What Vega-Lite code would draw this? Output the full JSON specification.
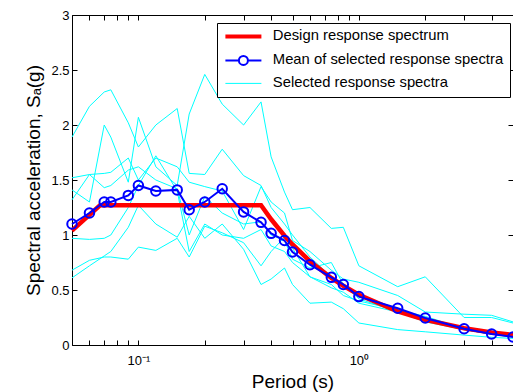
{
  "$schema": "https://vega.github.io/schema/vega-lite/v6.json",
  "width": 441,
  "height": 330,
  "autosize": {"type": "none"},
  "padding": {"left": 72, "top": 15, "right": 0, "bottom": 47},
  "background": "white",
  "config": {
    "view": {"stroke": "black", "strokeWidth": 1},
    "font": "Liberation Sans",
    "axis": {
      "domain": false,
      "grid": false,
      "tickColor": "black",
      "tickSize": -5,
      "labelColor": "black",
      "labelFont": "Liberation Sans",
      "labelFontSize": 13,
      "titleFont": "Liberation Sans",
      "titleFontSize": 19,
      "titleFontWeight": "normal",
      "titleColor": "black"
    }
  },
  "datasets": {
    "design": [
      {"T": 0.05, "Sa": 1.04}, {"T": 0.067, "Sa": 1.27}, {"T": 0.36, "Sa": 1.27},
      {"T": 0.4, "Sa": 1.143}, {"T": 0.46, "Sa": 0.994}, {"T": 0.5, "Sa": 0.914},
      {"T": 0.6, "Sa": 0.762}, {"T": 0.75, "Sa": 0.61}, {"T": 0.85, "Sa": 0.538},
      {"T": 1.0, "Sa": 0.457}, {"T": 1.5, "Sa": 0.305}, {"T": 2.0, "Sa": 0.229},
      {"T": 3.0, "Sa": 0.152}, {"T": 4.0, "Sa": 0.114}, {"T": 5.0, "Sa": 0.091}
    ],
    "mean": [
      {"T": 0.05, "Sa": 1.10}, {"T": 0.06, "Sa": 1.20}, {"T": 0.07, "Sa": 1.30},
      {"T": 0.075, "Sa": 1.30}, {"T": 0.09, "Sa": 1.36}, {"T": 0.1, "Sa": 1.45},
      {"T": 0.12, "Sa": 1.40}, {"T": 0.15, "Sa": 1.41}, {"T": 0.17, "Sa": 1.23},
      {"T": 0.2, "Sa": 1.30}, {"T": 0.24, "Sa": 1.42}, {"T": 0.3, "Sa": 1.21},
      {"T": 0.36, "Sa": 1.115}, {"T": 0.4, "Sa": 1.015}, {"T": 0.46, "Sa": 0.95},
      {"T": 0.5, "Sa": 0.845}, {"T": 0.6, "Sa": 0.73}, {"T": 0.75, "Sa": 0.615},
      {"T": 0.85, "Sa": 0.55}, {"T": 1.0, "Sa": 0.44}, {"T": 1.5, "Sa": 0.334},
      {"T": 2.0, "Sa": 0.245}, {"T": 3.0, "Sa": 0.148}, {"T": 4.0, "Sa": 0.10},
      {"T": 5.0, "Sa": 0.073}
    ],
    "sel": [
      {"id": 1, "T": 0.05, "Sa": 1.89}, {"id": 1, "T": 0.06, "Sa": 2.17}, {"id": 1, "T": 0.07, "Sa": 2.30}, {"id": 1, "T": 0.075, "Sa": 2.32}, {"id": 1, "T": 0.09, "Sa": 2.02}, {"id": 1, "T": 0.1, "Sa": 1.80}, {"id": 1, "T": 0.12, "Sa": 2.00}, {"id": 1, "T": 0.15, "Sa": 2.15}, {"id": 1, "T": 0.17, "Sa": 1.56}, {"id": 1, "T": 0.2, "Sa": 1.55}, {"id": 1, "T": 0.24, "Sa": 1.78}, {"id": 1, "T": 0.3, "Sa": 1.54}, {"id": 1, "T": 0.36, "Sa": 1.45}, {"id": 1, "T": 0.4, "Sa": 1.25}, {"id": 1, "T": 0.46, "Sa": 1.10}, {"id": 1, "T": 0.5, "Sa": 1.00}, {"id": 1, "T": 0.6, "Sa": 0.80}, {"id": 1, "T": 0.75, "Sa": 0.62}, {"id": 1, "T": 0.85, "Sa": 0.55}, {"id": 1, "T": 1.0, "Sa": 0.42}, {"id": 1, "T": 1.5, "Sa": 0.30}, {"id": 1, "T": 2.0, "Sa": 0.21}, {"id": 1, "T": 3.0, "Sa": 0.14}, {"id": 1, "T": 4.0, "Sa": 0.10}, {"id": 1, "T": 5.0, "Sa": 0.08},
      {"id": 2, "T": 0.05, "Sa": 1.41}, {"id": 2, "T": 0.06, "Sa": 1.30}, {"id": 2, "T": 0.07, "Sa": 2.00}, {"id": 2, "T": 0.075, "Sa": 1.89}, {"id": 2, "T": 0.09, "Sa": 1.48}, {"id": 2, "T": 0.1, "Sa": 2.07}, {"id": 2, "T": 0.12, "Sa": 1.62}, {"id": 2, "T": 0.15, "Sa": 1.45}, {"id": 2, "T": 0.17, "Sa": 2.10}, {"id": 2, "T": 0.2, "Sa": 2.46}, {"id": 2, "T": 0.24, "Sa": 2.19}, {"id": 2, "T": 0.3, "Sa": 2.00}, {"id": 2, "T": 0.36, "Sa": 2.21}, {"id": 2, "T": 0.4, "Sa": 1.71}, {"id": 2, "T": 0.46, "Sa": 1.39}, {"id": 2, "T": 0.5, "Sa": 1.23}, {"id": 2, "T": 0.6, "Sa": 1.25}, {"id": 2, "T": 0.75, "Sa": 1.06}, {"id": 2, "T": 0.85, "Sa": 1.07}, {"id": 2, "T": 1.0, "Sa": 0.72}, {"id": 2, "T": 1.5, "Sa": 0.53}, {"id": 2, "T": 2.0, "Sa": 0.62}, {"id": 2, "T": 3.0, "Sa": 0.25}, {"id": 2, "T": 4.0, "Sa": 0.25}, {"id": 2, "T": 5.0, "Sa": 0.20},
      {"id": 3, "T": 0.05, "Sa": 1.52}, {"id": 3, "T": 0.06, "Sa": 1.55}, {"id": 3, "T": 0.07, "Sa": 1.56}, {"id": 3, "T": 0.075, "Sa": 1.57}, {"id": 3, "T": 0.09, "Sa": 1.70}, {"id": 3, "T": 0.1, "Sa": 1.50}, {"id": 3, "T": 0.12, "Sa": 1.70}, {"id": 3, "T": 0.15, "Sa": 1.62}, {"id": 3, "T": 0.17, "Sa": 1.48}, {"id": 3, "T": 0.2, "Sa": 1.44}, {"id": 3, "T": 0.24, "Sa": 1.40}, {"id": 3, "T": 0.3, "Sa": 1.05}, {"id": 3, "T": 0.36, "Sa": 1.44}, {"id": 3, "T": 0.4, "Sa": 1.30}, {"id": 3, "T": 0.46, "Sa": 1.20}, {"id": 3, "T": 0.5, "Sa": 0.95}, {"id": 3, "T": 0.6, "Sa": 0.85}, {"id": 3, "T": 0.75, "Sa": 0.68}, {"id": 3, "T": 0.85, "Sa": 0.60}, {"id": 3, "T": 1.0, "Sa": 0.57}, {"id": 3, "T": 1.5, "Sa": 0.45}, {"id": 3, "T": 2.0, "Sa": 0.30}, {"id": 3, "T": 3.0, "Sa": 0.28}, {"id": 3, "T": 4.0, "Sa": 0.27}, {"id": 3, "T": 5.0, "Sa": 0.21},
      {"id": 4, "T": 0.05, "Sa": 1.32}, {"id": 4, "T": 0.06, "Sa": 1.55}, {"id": 4, "T": 0.07, "Sa": 1.43}, {"id": 4, "T": 0.075, "Sa": 1.45}, {"id": 4, "T": 0.09, "Sa": 1.59}, {"id": 4, "T": 0.1, "Sa": 1.62}, {"id": 4, "T": 0.12, "Sa": 1.50}, {"id": 4, "T": 0.15, "Sa": 1.42}, {"id": 4, "T": 0.17, "Sa": 1.00}, {"id": 4, "T": 0.2, "Sa": 1.35}, {"id": 4, "T": 0.24, "Sa": 1.20}, {"id": 4, "T": 0.3, "Sa": 1.10}, {"id": 4, "T": 0.36, "Sa": 1.12}, {"id": 4, "T": 0.4, "Sa": 1.00}, {"id": 4, "T": 0.46, "Sa": 0.95}, {"id": 4, "T": 0.5, "Sa": 0.78}, {"id": 4, "T": 0.6, "Sa": 0.70}, {"id": 4, "T": 0.75, "Sa": 0.75}, {"id": 4, "T": 0.85, "Sa": 0.55}, {"id": 4, "T": 1.0, "Sa": 0.46}, {"id": 4, "T": 1.5, "Sa": 0.32}, {"id": 4, "T": 2.0, "Sa": 0.26}, {"id": 4, "T": 3.0, "Sa": 0.15}, {"id": 4, "T": 4.0, "Sa": 0.12}, {"id": 4, "T": 5.0, "Sa": 0.09},
      {"id": 5, "T": 0.05, "Sa": 0.97}, {"id": 5, "T": 0.06, "Sa": 0.96}, {"id": 5, "T": 0.07, "Sa": 0.97}, {"id": 5, "T": 0.075, "Sa": 1.00}, {"id": 5, "T": 0.09, "Sa": 1.25}, {"id": 5, "T": 0.1, "Sa": 1.45}, {"id": 5, "T": 0.12, "Sa": 1.72}, {"id": 5, "T": 0.15, "Sa": 1.40}, {"id": 5, "T": 0.17, "Sa": 0.85}, {"id": 5, "T": 0.2, "Sa": 1.10}, {"id": 5, "T": 0.24, "Sa": 1.00}, {"id": 5, "T": 0.3, "Sa": 0.97}, {"id": 5, "T": 0.36, "Sa": 1.05}, {"id": 5, "T": 0.4, "Sa": 0.90}, {"id": 5, "T": 0.46, "Sa": 0.85}, {"id": 5, "T": 0.5, "Sa": 0.75}, {"id": 5, "T": 0.6, "Sa": 0.62}, {"id": 5, "T": 0.75, "Sa": 0.55}, {"id": 5, "T": 0.85, "Sa": 0.45}, {"id": 5, "T": 1.0, "Sa": 0.40}, {"id": 5, "T": 1.5, "Sa": 0.32}, {"id": 5, "T": 2.0, "Sa": 0.22}, {"id": 5, "T": 3.0, "Sa": 0.14}, {"id": 5, "T": 4.0, "Sa": 0.10}, {"id": 5, "T": 5.0, "Sa": 0.08},
      {"id": 6, "T": 0.05, "Sa": 0.68}, {"id": 6, "T": 0.06, "Sa": 0.77}, {"id": 6, "T": 0.07, "Sa": 0.80}, {"id": 6, "T": 0.075, "Sa": 0.80}, {"id": 6, "T": 0.09, "Sa": 0.78}, {"id": 6, "T": 0.1, "Sa": 0.89}, {"id": 6, "T": 0.12, "Sa": 0.86}, {"id": 6, "T": 0.15, "Sa": 0.97}, {"id": 6, "T": 0.17, "Sa": 0.80}, {"id": 6, "T": 0.2, "Sa": 1.08}, {"id": 6, "T": 0.24, "Sa": 1.02}, {"id": 6, "T": 0.3, "Sa": 0.93}, {"id": 6, "T": 0.36, "Sa": 0.72}, {"id": 6, "T": 0.4, "Sa": 0.85}, {"id": 6, "T": 0.46, "Sa": 0.98}, {"id": 6, "T": 0.5, "Sa": 0.88}, {"id": 6, "T": 0.6, "Sa": 0.62}, {"id": 6, "T": 0.75, "Sa": 0.52}, {"id": 6, "T": 0.85, "Sa": 0.48}, {"id": 6, "T": 1.0, "Sa": 0.38}, {"id": 6, "T": 1.5, "Sa": 0.30}, {"id": 6, "T": 2.0, "Sa": 0.22}, {"id": 6, "T": 3.0, "Sa": 0.14}, {"id": 6, "T": 4.0, "Sa": 0.10}, {"id": 6, "T": 5.0, "Sa": 0.08},
      {"id": 7, "T": 0.05, "Sa": 0.61}, {"id": 7, "T": 0.06, "Sa": 0.72}, {"id": 7, "T": 0.07, "Sa": 0.81}, {"id": 7, "T": 0.075, "Sa": 0.85}, {"id": 7, "T": 0.09, "Sa": 1.07}, {"id": 7, "T": 0.1, "Sa": 1.27}, {"id": 7, "T": 0.12, "Sa": 1.10}, {"id": 7, "T": 0.15, "Sa": 0.98}, {"id": 7, "T": 0.17, "Sa": 1.17}, {"id": 7, "T": 0.2, "Sa": 0.97}, {"id": 7, "T": 0.24, "Sa": 1.10}, {"id": 7, "T": 0.3, "Sa": 0.87}, {"id": 7, "T": 0.36, "Sa": 0.55}, {"id": 7, "T": 0.4, "Sa": 0.60}, {"id": 7, "T": 0.46, "Sa": 0.70}, {"id": 7, "T": 0.5, "Sa": 0.55}, {"id": 7, "T": 0.6, "Sa": 0.38}, {"id": 7, "T": 0.75, "Sa": 0.39}, {"id": 7, "T": 0.85, "Sa": 0.33}, {"id": 7, "T": 1.0, "Sa": 0.20}, {"id": 7, "T": 1.5, "Sa": 0.14}, {"id": 7, "T": 2.0, "Sa": 0.12}, {"id": 7, "T": 3.0, "Sa": 0.09}, {"id": 7, "T": 4.0, "Sa": 0.07}, {"id": 7, "T": 5.0, "Sa": 0.06}
    ]
  },
  "layer": [
    {
      "data": {"name": "sel"},
      "mark": {"type": "line", "strokeWidth": 1},
      "encoding": {
        "x": {
          "field": "T", "type": "quantitative",
          "scale": {"type": "log", "domain": [0.05, 5], "nice": false},
          "axis": {
            "orient": "bottom",
            "values": [0.05, 0.06, 0.07, 0.08, 0.09, 0.1, 0.2, 0.3, 0.4, 0.5, 0.6, 0.7, 0.8, 0.9, 1, 2, 3, 4, 5],
            "labelExpr": "datum.value == 0.1 ? '10⁻¹' : (datum.value == 1 ? '10⁰' : '')",
            "labelPadding": 14,
            "labelFlush": false,
            "labelOverlap": false,
            "title": "Period (s)",
            "titlePadding": 5
          }
        },
        "y": {
          "field": "Sa", "type": "quantitative",
          "scale": {"domain": [0, 3], "nice": false, "zero": false},
          "axis": {
            "orient": "left",
            "values": [0, 0.5, 1, 1.5, 2, 2.5, 3],
            "format": "~g",
            "labelPadding": 8,
            "title": "Spectral acceleration, Sₐ(g)",
            "titlePadding": 7
          }
        },
        "detail": {"field": "id", "type": "nominal"},
        "color": {
          "datum": "Selected response spectra", "type": "nominal",
          "scale": {
            "domain": ["Design response spectrum", "Mean of selected response spectra", "Selected response spectra"],
            "range": ["#ff0000", "#0000ff", "#00ffff"]
          },
          "legend": {
            "orient": "none",
            "legendX": 145,
            "legendY": 8,
            "title": null,
            "strokeColor": "black",
            "fillColor": "white",
            "padding": 6,
            "labelFont": "Liberation Sans",
            "labelFontSize": 14.8,
            "labelColor": "black",
            "labelLimit": 400,
            "symbolSize": 100,
            "symbolOffset": 13,
            "labelOffset": 22,
            "rowPadding": 6,
            "symbolType": "stroke",
            "encode": {
              "symbols": {
                "update": {
                  "shape": {"signal": "datum.value === 'Mean of selected response spectra' ? 'M-3.6,0L-0.9,0M0.9,0L3.6,0M0.9,0A0.9,0.9,0,1,1,-0.9,0A0.9,0.9,0,1,1,0.9,0' : 'M-3.6,0L3.6,0'"},
                  "strokeWidth": {"signal": "datum.value === 'Design response spectrum' ? 4 : (datum.value === 'Mean of selected response spectra' ? 2 : 1)"},
                  "fill": {"value": "transparent"}
                }
              }
            }
          }
        }
      }
    },
    {
      "data": {"name": "design"},
      "mark": {"type": "line", "strokeWidth": 4.5},
      "encoding": {
        "x": {"field": "T", "type": "quantitative", "axis": null},
        "y": {"field": "Sa", "type": "quantitative", "axis": null},
        "color": {"datum": "Design response spectrum", "type": "nominal"}
      }
    },
    {
      "data": {"name": "mean"},
      "mark": {"type": "line", "strokeWidth": 2},
      "encoding": {
        "x": {"field": "T", "type": "quantitative", "axis": null},
        "y": {"field": "Sa", "type": "quantitative", "axis": null},
        "color": {"datum": "Mean of selected response spectra", "type": "nominal"}
      }
    },
    {
      "data": {"name": "mean"},
      "mark": {"type": "point", "shape": "circle", "filled": false, "color": "#0000ff", "strokeWidth": 2, "size": 90, "opacity": 1},
      "encoding": {
        "x": {
          "field": "T", "type": "quantitative",
          "axis": {"orient": "top", "values": [0.05, 0.06, 0.07, 0.08, 0.09, 0.1, 0.2, 0.3, 0.4, 0.5, 0.6, 0.7, 0.8, 0.9, 1, 2, 3, 4, 5], "labels": false, "title": null}
        },
        "y": {
          "field": "Sa", "type": "quantitative",
          "axis": {"orient": "right", "values": [0, 0.5, 1, 1.5, 2, 2.5, 3], "labels": false, "title": null}
        }
      }
    }
  ],
  "resolve": {"axis": {"x": "independent", "y": "independent"}}
}
